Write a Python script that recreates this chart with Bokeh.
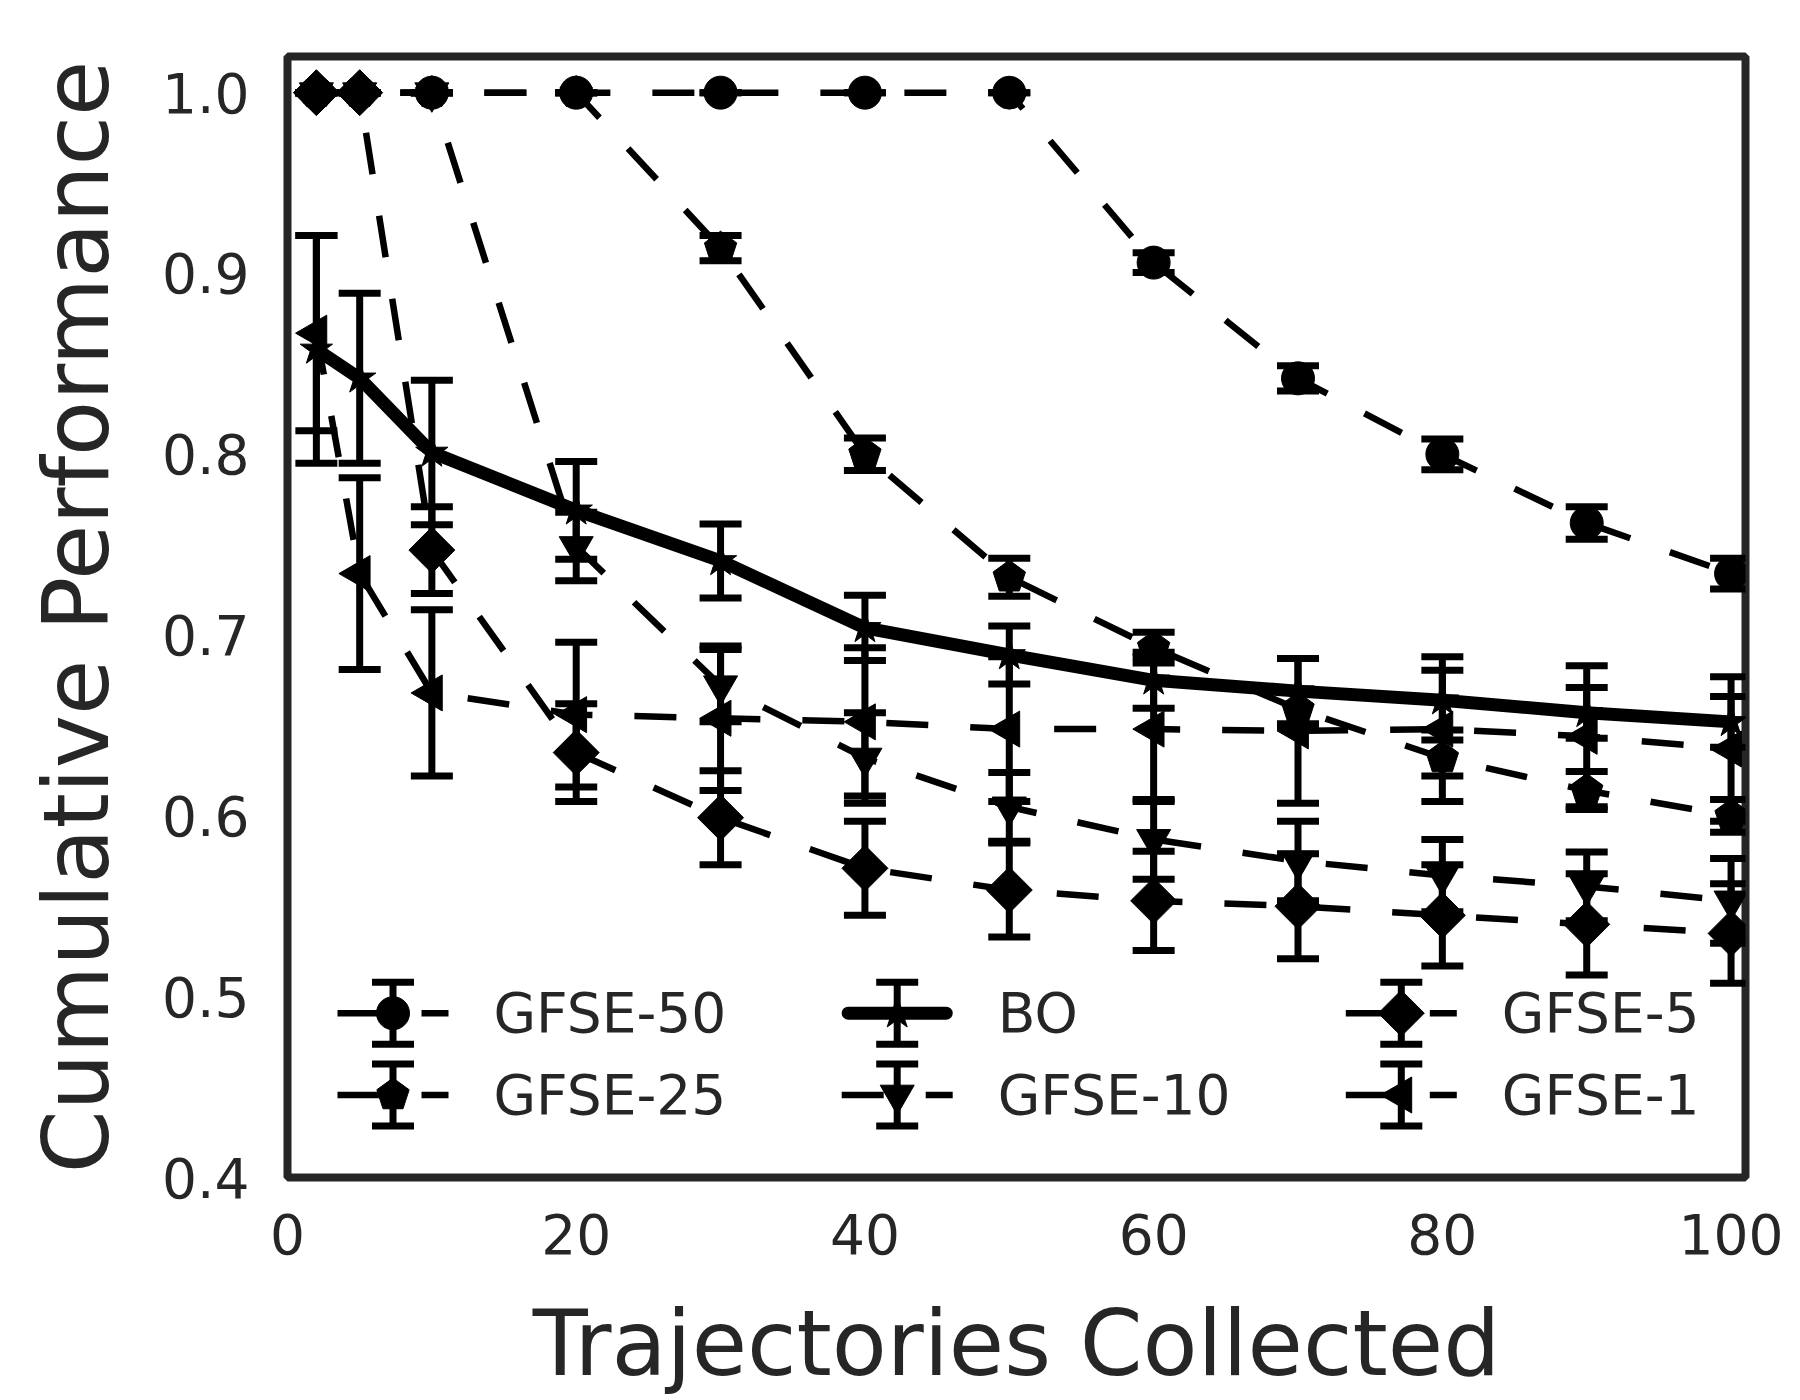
import numpy as np
from bokeh.plotting import figure
from bokeh.models import (ColumnDataSource, Whisker, TeeHead, Range1d,
                          FixedTicker, PrintfTickFormatter)
from bokeh.embed import file_html
from bokeh.resources import INLINE
from bokeh.core.properties import value

# ---------------------------------------------------------------- data
trajectories = [2, 5, 10, 20, 30, 40, 50, 60, 70, 80, 90, 100]

gfse50_mean = [1.0, 1.0, 1.0, 1.0, 1.0, 1.0, 1.0, 0.906, 0.842, 0.800, 0.762, 0.734]
gfse50_err = [0, 0, 0, 0, 0, 0, 0, 0.0055, 0.007, 0.0085, 0.009, 0.0085]

gfse25_mean = [1.0, 1.0, 1.0, 1.0, 0.914, 0.800, 0.732, 0.693, 0.659, 0.632, 0.614, 0.600]
gfse25_err = [0, 0, 0, 0, 0.007, 0.009, 0.0105, 0.0085, 0.010, 0.010, 0.0105, 0.009]

bo_mean = [0.858, 0.842, 0.801, 0.769, 0.741, 0.704, 0.689, 0.675, 0.669, 0.664, 0.657, 0.652]
bo_err = [0.063, 0.047, 0.040, 0.027, 0.0205, 0.018, 0.016, 0.0155, 0.018, 0.0165, 0.014, 0.014]

gfse10_mean = [1.0, 1.0, 1.0, 0.749, 0.672, 0.632, 0.605, 0.587, 0.575, 0.567, 0.561, 0.553]
gfse10_err = [0, 0, 0, 0.019, 0.020, 0.025, 0.019, 0.022, 0.022, 0.020, 0.019, 0.0235]

gfse5_mean = [1.0, 1.0, 0.747, 0.635, 0.599, 0.571, 0.559, 0.553, 0.550, 0.545, 0.540, 0.535]
gfse5_err = [0, 0, 0.024, 0.027, 0.026, 0.026, 0.026, 0.0275, 0.029, 0.028, 0.028, 0.0275]

gfse1_mean = [0.867, 0.734, 0.668, 0.656, 0.654, 0.652, 0.648, 0.648, 0.647, 0.648, 0.644, 0.637]
gfse1_err = [0.054, 0.053, 0.046, 0.040, 0.040, 0.041, 0.040, 0.040, 0.040, 0.040, 0.039, 0.040]

series_names = ["GFSE-50", "GFSE-25", "BO", "GFSE-10", "GFSE-5", "GFSE-1"]

x_ticks = [0, 20, 40, 60, 80, 100]
y_ticks = [0.4, 0.5, 0.6, 0.7, 0.8, 0.9, 1.0]

# ---------------------------------------------------------------- style
FONT = "DejaVu Sans"
INK = "#262626"
X_START, X_END = 0, 101
Y_START, Y_END = 0.4, 1.02
FRAME_W, FRAME_H = 1458, 1121
PX_X = FRAME_W / (X_END - X_START)
PX_Y = FRAME_H / (Y_END - Y_START)

DASH = "42 42"
DASH_W = 6.5
BO_W = 13
ERR_W = 7
CAP = 42

# marker kind, marker size (px), dashed?
STYLE = {
    "GFSE-50": ("circle", 33, True),
    "GFSE-25": ("pentagon", 17, True),
    "BO": ("star", 34, False),
    "GFSE-10": ("inverted_triangle", 34, True),
    "GFSE-5": ("diamond", 32.5, True),
    "GFSE-1": ("left_triangle", 36, True),
}

p = figure(frame_width=FRAME_W, frame_height=FRAME_H,
           x_range=Range1d(X_START, X_END), y_range=Range1d(Y_START, Y_END),
           output_backend="svg", toolbar_location=None,
           min_border_left=287, min_border_right=55,
           min_border_top=56, min_border_bottom=223,
           background_fill_color="white", border_fill_color="white")

p.grid.visible = False
p.outline_line_color = INK
p.outline_line_width = 8

for ax in (p.xaxis[0], p.yaxis[0]):
    ax.axis_line_color = None
    ax.major_tick_line_color = None
    ax.minor_tick_line_color = None
    ax.major_tick_out = 0
    ax.major_tick_in = 0
    ax.minor_tick_out = 0
    ax.major_label_text_font = FONT
    ax.major_label_text_font_size = "55px"
    ax.major_label_text_color = INK
    ax.axis_label_text_font = FONT
    ax.axis_label_text_font_size = "90px"
    ax.axis_label_text_font_style = "normal"
    ax.axis_label_text_color = INK

p.xaxis.ticker = FixedTicker(ticks=x_ticks)
p.yaxis.ticker = FixedTicker(ticks=y_ticks)
p.yaxis.formatter = PrintfTickFormatter(format="%.1f")
p.xaxis.axis_label = "Trajectories Collected"
p.yaxis.axis_label = "Cumulative Performance"
p.yaxis.major_label_standoff = 38
p.xaxis.major_label_standoff = 36
p.yaxis.axis_label_standoff = 30
p.xaxis.axis_label_standoff = 34


def pentagon_shapes(xs, ys, r_px):
    ang = np.pi / 2 + 2 * np.pi * np.arange(5) / 5
    px = [list(x + r_px * np.cos(ang) / PX_X) for x in xs]
    py = [list(y + r_px * np.sin(ang) / PX_Y) for y in ys]
    return px, py


def draw_markers(xs, ys, kind, size):
    if kind == "pentagon":
        px, py = pentagon_shapes(xs, ys, size)
        p.patches(px, py, fill_color="black", line_color="black", line_width=1)
        return
    marker, angle = kind, 0.0
    if kind == "diamond":
        marker, angle = "square", np.pi / 4
    elif kind == "left_triangle":
        marker, angle = "triangle", np.pi / 2
    p.scatter(xs, ys, marker=marker, size=size, angle=angle,
              fill_color="black", line_color="black", line_width=1)


def draw_line(xs, ys, dashed):
    if dashed:
        p.line(xs, ys, line_color="black", line_width=DASH_W,
               line_dash=DASH, line_join="round")
    else:
        p.line(xs, ys, line_color="black", line_width=BO_W,
               line_cap="round", line_join="round")


def draw_errorbars(xs, lower, upper):
    src = ColumnDataSource(dict(x=xs, lower=lower, upper=upper))
    p.add_layout(Whisker(source=src, base="x", lower="lower", upper="upper",
                         dimension="height", line_color="black", line_width=ERR_W,
                         level="glyph",
                         lower_head=TeeHead(size=CAP, line_color="black", line_width=ERR_W),
                         upper_head=TeeHead(size=CAP, line_color="black", line_width=ERR_W)))


all_series = {
    "GFSE-50": (gfse50_mean, gfse50_err),
    "GFSE-25": (gfse25_mean, gfse25_err),
    "BO": (bo_mean, bo_err),
    "GFSE-10": (gfse10_mean, gfse10_err),
    "GFSE-5": (gfse5_mean, gfse5_err),
    "GFSE-1": (gfse1_mean, gfse1_err),
}

for name in series_names:
    mean, err = all_series[name]
    kind, size, dashed = STYLE[name]
    lo = [m - e for m, e in zip(mean, err)]
    hi = [m + e for m, e in zip(mean, err)]
    draw_line(trajectories, mean, dashed)
    draw_errorbars(trajectories, lo, hi)
    draw_markers(trajectories, mean, kind, size)

# ---------------------------------------------------------------- legend
# handle centres, in px measured from the frame's left / bottom edge
LEG_COLS = [105.5, 609.7, 1113.8]
LEG_ROWS = [164.3, 82.5]
LEG_HALF = 55.5
LEG_ERR = 31
TEXT_GAP = 100.5


def fx(px):
    return X_START + px / PX_X


def fy(py):
    return Y_START + py / PX_Y


for i, name in enumerate(series_names):
    col, row = divmod(i, 2)
    cx, cy = LEG_COLS[col], LEG_ROWS[row]
    kind, size, dashed = STYLE[name]
    trim = 0 if dashed else BO_W / 2
    draw_line([fx(cx - LEG_HALF + trim), fx(cx + LEG_HALF - trim)],
              [fy(cy), fy(cy)], dashed)
    draw_errorbars([fx(cx)], [fy(cy - LEG_ERR)], [fy(cy + LEG_ERR)])
    draw_markers([fx(cx)], [fy(cy)], kind, size)
    p.text(x=[fx(cx + TEXT_GAP)], y=[fy(cy)], text=[name],
           text_font=value(FONT), text_font_size="55px", text_color=INK,
           text_align="left", text_baseline="middle")

open("out.html", "w").write(file_html(p, INLINE))
